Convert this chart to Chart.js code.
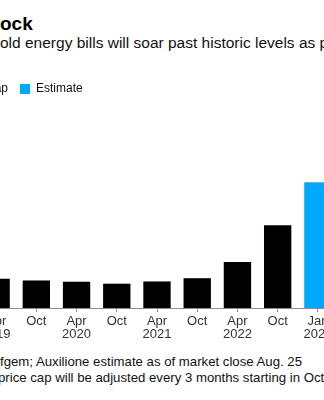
<!DOCTYPE html>
<html>
<head>
<meta charset="utf-8">
<script src="https://cdn.jsdelivr.net/npm/chart.js@4"></script>
<style>
html,body{margin:0;padding:0;background:#fff;overflow:hidden;width:324px;height:400px;}
body{position:relative;font-family:"Liberation Sans",Arial,sans-serif;color:#111;}
.line{position:absolute;left:0;white-space:nowrap;}
.pre{position:absolute;right:100%;top:0;}
#title{top:13px;font-size:19px;line-height:22px;font-weight:bold;color:#000;}
#subtitle{top:34px;font-size:15.5px;line-height:18px;}
#src{top:354px;font-size:13.2px;line-height:15px;}
#note{top:369.5px;left:-2px;font-size:13.2px;line-height:15px;}
#wrap{position:absolute;left:-70px;top:71px;width:408px;height:273px;}
</style>
</head>
<body>
<div class="line" id="title"><span class="pre">Price Sh</span>ock</div>
<div class="line" id="subtitle"><span class="pre">U.K. househ</span>old energy bills will soar past historic levels as price cap rises</div>
<div id="wrap"><canvas id="c"></canvas></div>
<div class="line" id="src"><span class="pre">Source: O</span>fgem; Auxilione estimate as of market close Aug. 25</div>
<div class="line" id="note"><span class="pre">Note: The </span>price cap will be adjusted every 3 months starting in October</div>
<script>
const categories = [['Apr','2019'],['Oct'],['Apr','2020'],['Oct'],['Apr','2021'],['Oct'],['Apr','2022'],['Oct'],['Jan','2023']];
const priceCap = [1254,1179,1126,1042,1138,1277,1971,3549,null];
const estimate = [null,null,null,null,null,null,null,null,5386];
const seriesNames = ['Price cap','Estimate'];

Chart.defaults.font.family = '"Liberation Sans", Arial, sans-serif';

new Chart(document.getElementById('c'), {
  type: 'bar',
  data: {
    labels: categories,
    datasets: [
      {label: seriesNames[0], data: priceCap, backgroundColor: '#000000', barPercentage: 0.68, categoryPercentage: 1},
      {label: seriesNames[1], data: estimate, backgroundColor: '#00a9ff', barPercentage: 0.68, categoryPercentage: 1}
    ]
  },
  options: {
    responsive: true,
    maintainAspectRatio: false,
    animation: false,
    layout: {padding: 0},
    plugins: {
      legend: {display: true, position: 'top', align: 'start',
        labels: {boxWidth: 10, boxHeight: 10, padding: 12, color: '#111', font: {size: 12}}},
      tooltip: {enabled: false}
    },
    scales: {
      x: {
        stacked: true, offset: true,
        grid: {display: true, drawOnChartArea: false, offset: false, tickLength: 4, color: '#8c8c8c'},
        border: {display: true, color: '#8c8c8c', width: 1},
        ticks: {color: '#333', font: {size: 13, lineHeight: 1}, padding: 3, maxRotation: 0, autoSkip: false}
      },
      y: {
        stacked: true, min: 0, max: 8700,
        ticks: {display: false},
        grid: {display: false, drawTicks: false},
        border: {display: false},
        afterFit(s) { s.width = 46; }
      }
    }
  }
});
</script>
</body>
</html>
